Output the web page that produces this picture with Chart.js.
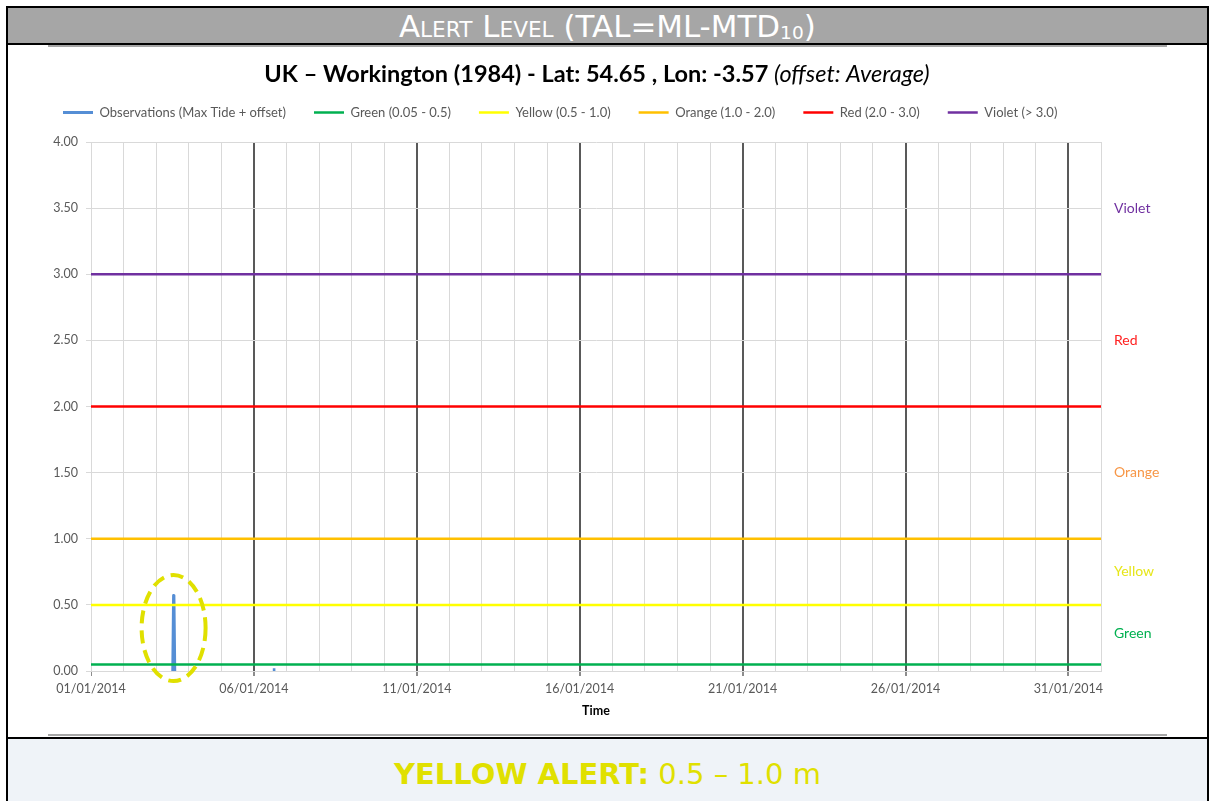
<!DOCTYPE html>
<html>
<head>
<meta charset="utf-8">
<script src="https://cdn.jsdelivr.net/npm/chart.js@4.4.1/dist/chart.umd.min.js"></script>
<style>
  html, body { margin: 0; padding: 0; background: #fff; overflow: hidden; }
  .abs { position: absolute; }
  #frame { left: 6px; top: 6px; width: 1199px; height: 820px; border: 2px solid #000; }
  #head { left: 8px; top: 8px; width: 1199px; height: 35px; background: #a6a6a6; color: #fff;
          font-family: 'DejaVu Sans', sans-serif; font-size: 30px; font-variant: small-caps;
          text-align: center; line-height: 35px; overflow: hidden; }
  #head span.t { display: inline-block; transform: scaleX(1.03); position: relative; top: 1px; }
  #head sub { font-size: 18px; vertical-align: -2px; }
  .black { background: #000; height: 2px; left: 8px; width: 1199px; }
  .shade { background: #a6a6a6; height: 2px; left: 48px; width: 1119px; }
  #wrap { left: 8px; top: 45px; width: 1199px; height: 690px; }
  #panel { left: 8px; top: 739px; width: 1199px; height: 70px; background: #eff3f8;
           font-family: 'DejaVu Sans', sans-serif; font-size: 29px; color: #e0e000; text-align: center; line-height: 70px; }
  #panel span.t { display: inline-block; position: relative; top: 0px; }
</style>
</head>
<body>
<div id="frame" class="abs"></div>
<div id="head" class="abs"><span class="t">Alert Level (TAL=ML-MTD<sub>10</sub>)</span></div>
<div class="abs black" style="top:43px"></div>
<div class="abs shade" style="top:45px"></div>
<div id="wrap" class="abs"><canvas id="alertChart" width="1199" height="690"></canvas></div>
<div class="abs shade" style="top:734px"></div>
<div class="abs black" style="top:737px"></div>
<div id="panel" class="abs"><span class="t"><b>YELLOW ALERT:</b> 0.5 – 1.0 m</span></div>

<script>
// x values are days since 01/01/2014 00:00
const dayLabels = ['01/01/2014', '06/01/2014', '11/01/2014', '16/01/2014', '21/01/2014', '26/01/2014', '31/01/2014'];
const xMin = 0, xMax = 31;
const yTicks = [0, 0.5, 1, 1.5, 2, 2.5, 3, 3.5, 4];

const obsDays = [2.51, 2.535, 2.545, 2.57, null, 5.58, 5.66];
const obsValues = [0, 0.57, 0.56, 0, null, 0.01, 0.01];

const levelNames = ['Green (0.05 - 0.5)', 'Yellow (0.5 - 1.0)', 'Orange (1.0 - 2.0)', 'Red (2.0 - 3.0)', 'Violet (> 3.0)'];
const levelValues = [0.05, 0.5, 1.0, 2.0, 3.0];
const levelColors = ['#00b050', '#ffff00', '#ffc000', '#ff0000', '#7030a0'];

const sideNames = ['Green', 'Yellow', 'Orange', 'Red', 'Violet'];
const sideValues = [0.28, 0.75, 1.5, 2.5, 3.5];
const sideColors = ['#00b050', '#e6e619', '#f79646', '#ff2020', '#7030a0'];

const FONT = 'Lato, "Open Sans", sans-serif';

const obsPoints = obsDays.map((d, i) => d === null ? { x: 3.5, y: null } : { x: d, y: obsValues[i] });

const datasets = [{
  label: 'Observations (Max Tide + offset)',
  data: obsPoints,
  borderColor: '#558ed5',
  backgroundColor: '#558ed5',
  borderWidth: 3,
  borderJoinStyle: 'round',
  pointRadius: 0,
  spanGaps: false,
  order: 1
}];
levelValues.forEach((v, i) => {
  datasets.push({
    label: levelNames[i],
    data: [{ x: xMin, y: v }, { x: xMax, y: v }],
    borderColor: levelColors[i],
    backgroundColor: levelColors[i],
    borderWidth: 2.5,
    pointRadius: 0,
    order: 0
  });
});

const chartTitle = {
  id: 'chartTitle',
  afterDraw(chart) {
    const ctx = chart.ctx;
    const a = 'UK \u2013 Workington (1984) - Lat: 54.65 , Lon: -3.57 ';
    const b = '(offset: Average)';
    ctx.save();
    ctx.textBaseline = 'middle';
    ctx.fillStyle = '#000';
    ctx.font = 'bold 23.5px ' + FONT;
    const wa = ctx.measureText(a).width;
    ctx.font = 'italic 23.5px ' + FONT;
    const wb = ctx.measureText(b).width;
    const x = 589 - (wa + wb) / 2;
    ctx.textAlign = 'left';
    ctx.font = 'bold 23.5px ' + FONT;
    ctx.fillText(a, x, 29);
    ctx.font = 'italic 23.5px ' + FONT;
    ctx.fillText(b, x + wa, 29);
    ctx.restore();
  }
};

const sideLabels = {
  id: 'sideLabels',
  afterDraw(chart) {
    const ctx = chart.ctx;
    const y = chart.scales.y;
    ctx.save();
    ctx.font = '14px ' + FONT;
    ctx.textAlign = 'left';
    ctx.textBaseline = 'middle';
    sideNames.forEach((n, i) => {
      ctx.fillStyle = sideColors[i];
      ctx.fillText(n, chart.chartArea.right + 13, y.getPixelForValue(sideValues[i]));
    });
    ctx.restore();
  }
};

// dashed ring around the highest observation
const ring = {
  id: 'ring',
  afterDatasetsDraw(chart) {
    let k = 0;
    obsValues.forEach((v, i) => { if (v !== null && v > obsValues[k]) k = i; });
    const cx = chart.scales.x.getPixelForValue(obsDays[k]);
    const cy = chart.scales.y.getPixelForValue(obsValues[k] * 0.57);
    const ctx = chart.ctx;
    ctx.save();
    ctx.strokeStyle = '#e0e000';
    ctx.lineWidth = 4;
    ctx.setLineDash([13, 7]);
    ctx.beginPath();
    ctx.ellipse(cx, cy, 32, 53, 0, 0, Math.PI * 2);
    ctx.stroke();
    ctx.restore();
  }
};

const legendShift = {
  id: 'legendShift',
  afterLayout(chart) {
    const lg = chart.legend;
    const dx = 55 - (lg.left + 28);
    lg.left += dx;
    lg.right += dx;
    lg.top -= 13;
    lg.bottom -= 13;
  }
};

new Chart(document.getElementById('alertChart'), {
  type: 'line',
  data: { datasets: datasets },
  plugins: [chartTitle, sideLabels, ring, legendShift],
  options: {
    responsive: false,
    animation: false,
    layout: { padding: { top: 46, right: 106, left: 0, bottom: 13 } },
    plugins: {
      legend: {
        position: 'top',
        align: 'start',
        labels: {
          usePointStyle: true,
          pointStyle: 'line',
          pointStyleWidth: 30,
          padding: 28,
          color: '#595959',
          font: { family: FONT, size: 13 },
          sort: (a, b) => a.datasetIndex - b.datasetIndex
        }
      },
      tooltip: { enabled: false }
    },
    scales: {
      x: {
        type: 'linear',
        min: xMin,
        max: xMax,
        afterBuildTicks: (s) => { s.ticks = []; for (let d = xMin; d <= xMax; d++) s.ticks.push({ value: d }); },
        ticks: {
          autoSkip: false,
          maxRotation: 0,
          padding: 5,
          color: '#595959',
          font: { family: FONT, size: 12.5 },
          callback: (v) => v % 5 === 0 ? dayLabels[v / 5] : ''
        },
        grid: {
          color: (c) => c.tick && c.tick.value % 5 === 0 && c.tick.value > 0 ? '#595959' : '#d9d9d9',
          lineWidth: (c) => c.tick && c.tick.value % 5 === 0 && c.tick.value > 0 ? 2 : 1,
          tickColor: (c) => c.tick && c.tick.value % 5 === 0 ? '#8c8c8c' : 'rgba(0,0,0,0)',
          tickLength: 5
        },
        border: { color: '#d9d9d9' },
        title: { display: true, text: 'Time', color: '#000', font: { family: FONT, size: 12.5, weight: 'bold' }, padding: { top: 2 } }
      },
      y: {
        min: 0,
        max: 4,
        afterBuildTicks: (s) => { s.ticks = yTicks.map(v => ({ value: v })); },
        afterFit: (s) => { s.width = 83; },
        ticks: {
          padding: 8,
          color: '#595959',
          font: { family: FONT, size: 12.5 },
          callback: (v) => v.toFixed(2)
        },
        grid: { color: '#d9d9d9', tickLength: 5 },
        border: { color: '#d9d9d9' }
      }
    }
  }
});
</script>
</body>
</html>
